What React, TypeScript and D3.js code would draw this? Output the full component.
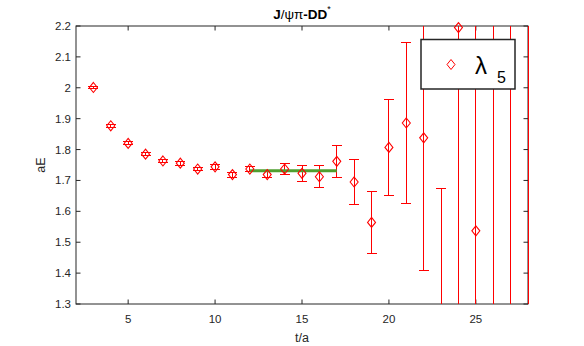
import React from "react";
import * as d3 from "d3";

// effective mass plateau, lambda_5 operator
const tValues = [3, 4, 5, 6, 7, 8, 9, 10, 11, 12, 13, 14, 15, 16, 17, 18, 19, 20, 21, 22, 23, 24, 25, 26, 27, 28];
const energies = [2.001, 1.877, 1.82, 1.785, 1.763, 1.756, 1.737, 1.744, 1.719, 1.737, 1.719, 1.737, 1.723, 1.712, 1.762, 1.695, 1.564, 1.807, 1.886, 1.838, 1.05, 2.195, 1.537, 1.2, 2.4, 1.0];
const errors = [0.004, 0.004, 0.005, 0.005, 0.005, 0.006, 0.006, 0.007, 0.008, 0.009, 0.011, 0.018, 0.025, 0.035, 0.051, 0.072, 0.101, 0.155, 0.26, 0.431, 0.624, 1.0, 0.8, 1.2, 1.3, 1.5];
const fitRange = [12, 17];
const fitValue = 1.731;
const xTicks = [5, 10, 15, 20, 25];
const yTicks = [1.3, 1.4, 1.5, 1.6, 1.7, 1.8, 1.9, 2, 2.1, 2.2];

const W = 584;
const H = 346;
const margin = { left: 76, right: 56, top: 26, bottom: 42 };
const font = "'Liberation Sans', Arial, Helvetica, sans-serif";
const axisColor = "#262626";

const diamond = (cx: number, cy: number) =>
  `M${cx},${cy - 5}L${cx + 4},${cy}L${cx},${cy + 5}L${cx - 4},${cy}Z`;

const App = () => {
  const x0 = margin.left;
  const x1 = W - margin.right;
  const y0 = margin.top;
  const y1 = H - margin.bottom;

  const xScale = d3.scaleLinear().domain([2, 28]).range([x0, x1]);
  const yScale = d3.scaleLinear().domain([1.3, 2.2]).range([y1, y0]);

  const points = tValues.map((t, i) => ({ t, e: energies[i], err: errors[i] }));
  const fmt = d3.format("");

  return (
    <div style={{ position: "fixed", left: 0, top: 0 }}>
      <svg width={W} height={H} style={{ display: "block", background: "#fff" }} fontFamily={font}>
        <defs>
          <clipPath id="plotClip">
            <rect x={x0 - 1} y={y0} width={x1 - x0 + 2} height={y1 - y0} />
          </clipPath>
        </defs>

        {/* axes box */}
        <rect x={x0} y={y0} width={x1 - x0} height={y1 - y0} fill="none" stroke={axisColor} strokeWidth={1} />
        {xTicks.map((t) => (
          <g key={"xt" + t}>
            <line x1={xScale(t)} x2={xScale(t)} y1={y1} y2={y1 - 4.5} stroke={axisColor} />
            <line x1={xScale(t)} x2={xScale(t)} y1={y0} y2={y0 + 4.5} stroke={axisColor} />
            <text x={xScale(t)} y={y1 + 19} textAnchor="middle" fontSize={11.5} fill={axisColor}>
              {fmt(t)}
            </text>
          </g>
        ))}
        {yTicks.map((v) => (
          <g key={"yt" + v}>
            <line x1={x0} x2={x0 + 4.5} y1={yScale(v)} y2={yScale(v)} stroke={axisColor} />
            <line x1={x1} x2={x1 - 4.5} y1={yScale(v)} y2={yScale(v)} stroke={axisColor} />
            <text x={x0 - 5} y={yScale(v) + 4} textAnchor="end" fontSize={11.5} fill={axisColor}>
              {fmt(v)}
            </text>
          </g>
        ))}

        <text x={(x0 + x1) / 2} y={H - 4} textAnchor="middle" fontSize={12.5} fill={axisColor}>
          t/a
        </text>
        <text
          transform={`translate(45,${(y0 + y1) / 2}) rotate(-90)`}
          textAnchor="middle"
          fontSize={12.5}
          fill={axisColor}
        >
          aE
        </text>

        {/* title */}
        <text x={(x0 + x1) / 2} y={19} textAnchor="middle" fontSize={13.5} fill="#000">
          <tspan fontWeight="bold">J</tspan>
          <tspan>/ψπ</tspan>
          <tspan fontWeight="bold">-DD</tspan>
          <tspan fontSize={9} dy={-7}>*</tspan>
        </text>

        {/* error bars */}
        <g clipPath="url(#plotClip)" stroke="#ff0000" strokeWidth={1} fill="none" shapeRendering="crispEdges">
          {points.map((p) => {
            const cx = xScale(p.t);
            const top = yScale(p.e + p.err);
            const bot = yScale(p.e - p.err);
            return (
              <g key={"eb" + p.t}>
                <line x1={cx} x2={cx} y1={top} y2={bot} />
                <line x1={cx - 5} x2={cx + 5} y1={top} y2={top} />
                <line x1={cx - 5} x2={cx + 5} y1={bot} y2={bot} />
              </g>
            );
          })}
        </g>

        {/* plateau fit */}
        <line
          x1={xScale(fitRange[0])}
          x2={xScale(fitRange[1])}
          y1={yScale(fitValue)}
          y2={yScale(fitValue)}
          stroke="#4f9f2f"
          strokeWidth={3}
        />

        {/* markers */}
        <g stroke="#ff0000" strokeWidth={1.1} fill="none">
          {points
            .filter((p) => p.e >= 1.3 && p.e <= 2.2)
            .map((p) => (
              <path key={"m" + p.t} d={diamond(xScale(p.t), yScale(p.e))} />
            ))}
        </g>

        {/* legend */}
        <g>
          <rect x={421} y={39.5} width={94} height={49.5} fill="#fff" stroke={axisColor} strokeWidth={1.5} />
          <path d={diamond(451, 64.5)} stroke="#ff0000" fill="none" />
          <text x={475} y={74} fontSize={24} fill="#000">λ</text>
          <text x={497} y={83} fontSize={16} fill="#000">5</text>
        </g>
      </svg>
    </div>
  );
};

export default App;
